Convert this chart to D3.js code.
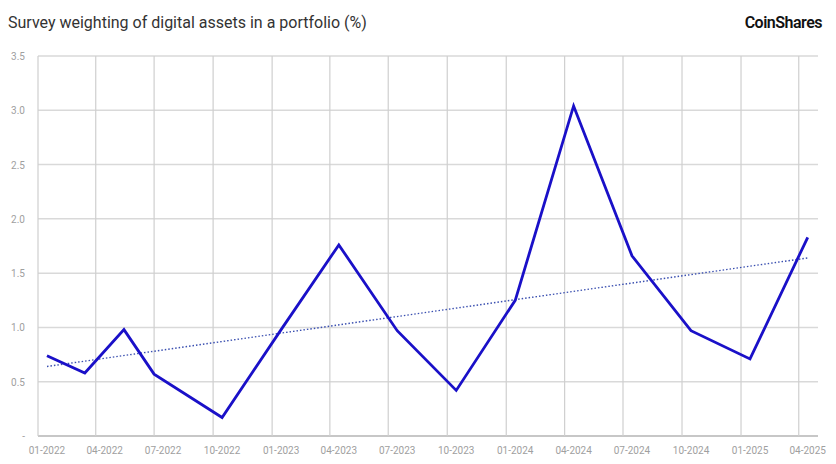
<!DOCTYPE html>
<html><head><meta charset="utf-8">
<script src="https://cdn.jsdelivr.net/npm/d3@7"></script>
<style>body{margin:0;background:#fff}</style>
</head><body>
<script>
// Survey dates (mid-month) and weights
var surveyDates = ["2022-01-15","2022-03-15","2022-05-15","2022-07-01","2022-10-15","2023-01-15","2023-04-15","2023-07-15","2023-10-15","2024-01-15","2024-04-15","2024-07-15","2024-10-15","2025-01-15","2025-04-15"];
var weights = [0.74, 0.58, 0.98, 0.57, 0.17, 0.98, 1.76, 0.97, 0.42, 1.25, 3.04, 1.66, 0.97, 0.71, 1.83];
var trendValues = [0.64, 1.64];
var xTickLabels = ["01-2022","04-2022","07-2022","10-2022","01-2023","04-2023","07-2023","10-2023","01-2024","04-2024","07-2024","10-2024","01-2025","04-2025"];
var yTicks = [0, 0.5, 1, 1.5, 2, 2.5, 3, 3.5];

var svgWidth = 836, svgHeight = 464;
var margin = {top: 56, right: 18, bottom: 28, left: 38};

var svg = d3.select("body").append("svg")
  .attr("width", svgWidth).attr("height", svgHeight)
  .style("font-family", "Roboto, sans-serif");

var parse = d3.timeParse("%Y-%m-%d");
var x = d3.scaleTime()
  .domain([parse("2022-01-01"), parse("2025-05-01")])
  .range([margin.left, svgWidth - margin.right]);
var y = d3.scaleLinear().domain([0, 3.5]).range([svgHeight - margin.bottom, margin.top]);

var tickDates = xTickLabels.map(s => d3.timeParse("%m-%Y")(s));

// grid
svg.append("g").selectAll("line").data(yTicks).join("line")
  .attr("x1", margin.left).attr("x2", svgWidth - margin.right)
  .attr("y1", d => y(d)).attr("y2", d => y(d))
  .attr("stroke", d => d === 0 ? "#b5b5b5" : "#d9d9d9").attr("stroke-width", 1.5);
svg.append("g").selectAll("line").data(tickDates).join("line")
  .attr("x1", d => x(d)).attr("x2", d => x(d))
  .attr("y1", y(0)).attr("y2", y(3.5))
  .attr("stroke", "#cfcfcf").attr("stroke-width", 1.2);

// y labels
svg.append("g").selectAll("text").data(yTicks).join("text")
  .attr("x", 25).attr("y", d => y(d) + 4)
  .attr("text-anchor", "end").attr("font-size", 10).attr("fill", "#a0a0a0")
  .text(d => d === 0 ? "-" : d.toFixed(1));

// x labels
svg.append("g").selectAll("text").data(tickDates).join("text")
  .attr("x", (d, i) => x(d) + 9).attr("y", y(0) + 18)
  .attr("text-anchor", "middle").attr("font-size", 10).attr("fill", "#a0a0a0")
  .text((d, i) => xTickLabels[i]);

var pts = surveyDates.map((d, i) => [parse(d), weights[i]]);

// trend line
var first = pts[0][0], last = pts[pts.length - 1][0];
svg.append("line")
  .attr("x1", x(first)).attr("y1", y(trendValues[0]))
  .attr("x2", x(last)).attr("y2", y(trendValues[1]))
  .attr("stroke", "#3a4fb0").attr("stroke-width", 1.4).attr("stroke-dasharray", "1.5,2");

// main line
svg.append("path").datum(pts)
  .attr("d", d3.line().x(d => x(d[0])).y(d => y(d[1])))
  .attr("fill", "none").attr("stroke", "#1a10c8").attr("stroke-width", 2.8)
  .attr("stroke-linejoin", "miter");

svg.append("text").attr("x", 8).attr("y", 28)
  .attr("font-size", 16).attr("fill", "#333").text("Survey weighting of digital assets in a portfolio (%)");
svg.append("text").attr("x", 822).attr("y", 28).attr("text-anchor", "end")
  .attr("font-size", 16).attr("font-weight", 600).attr("fill", "#111").attr("letter-spacing", -0.5).text("CoinShares");
</script>
</body></html>
